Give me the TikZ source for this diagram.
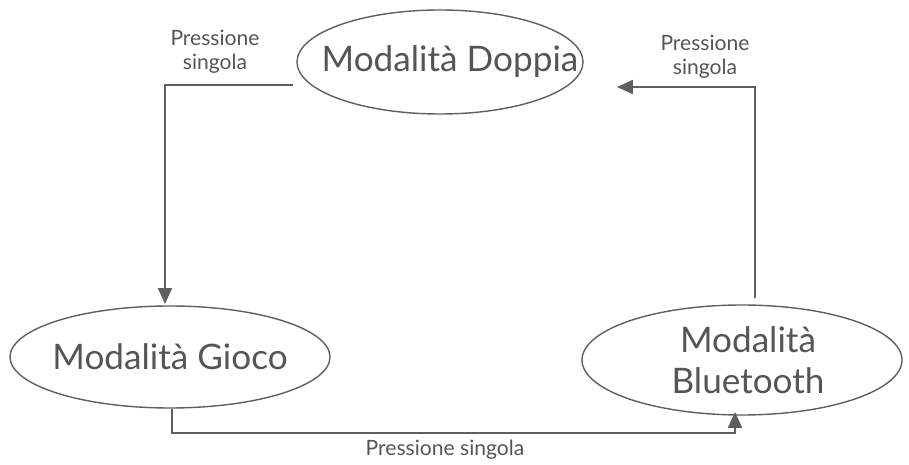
\documentclass[tikz,border=0pt]{standalone}
\usepackage{fontspec}
\setmainfont{Lato}
\usetikzlibrary{arrows.meta}
\definecolor{linegray}{RGB}{95,95,95}
\definecolor{textgray}{RGB}{85,85,85}
\tikzset{
  modetext/.style={text=textgray, font=\fontsize{20}{23}\selectfont, align=center, inner sep=0pt},
  oval/.style={draw=linegray, thick},
  flow/.style={draw=linegray, thick, -{Triangle[length=9pt,width=8pt]}},
  lbl/.style={text=textgray, font=\fontsize{12}{13.5}\selectfont, align=center}
}
\begin{document}
\begin{tikzpicture}[x=0.02cm,y=-0.02cm]
    \useasboundingbox (0,0) rectangle (909,465);
    \node[modetext] (doppia) at (450,62) {Modalità Doppia};
    \node[modetext] (gioco) at (170,357) {Modalità Gioco};
    \node[modetext] (bt) at (748,360) {Modalità\\Bluetooth};

    % ovals around the modes
    \draw[oval] (440,62) ellipse [x radius=143, y radius=52];
    \draw[oval] (170,357) ellipse [x radius=160, y radius=51];
    \draw[oval] (742,360) ellipse [x radius=160, y radius=55];

    \coordinate (d1) at (293,85);
    \coordinate (g1) at (165,304);
    \coordinate (b1) at (755,298);
    \coordinate (d2) at (617,87);
    \coordinate (g2) at (172,409);
    \coordinate (b2) at (735,412);

    \draw[flow] (d1) -| (g1);
    \draw[flow] (b1) |- (d2);
    \draw[flow] (g2) |- (735,433) -- (b2);

    \node[lbl] (l1) at (215,52) {Pressione\\singola};
    \node[lbl] (l2) at (705,57) {Pressione\\singola};
    \node[lbl] (l3) at (445,450) {Pressione singola};
\end{tikzpicture}
\end{document}
